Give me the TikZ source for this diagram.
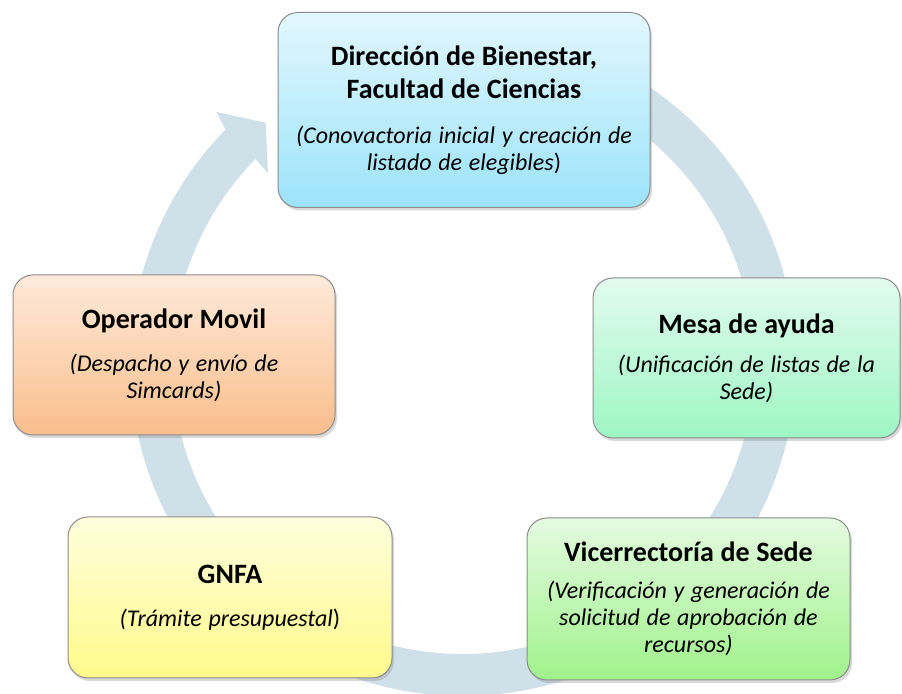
\documentclass[tikz,border=0pt]{standalone}
\usepackage{fontspec}
\setmainfont{Carlito}
\usepackage{tikz}
\usetikzlibrary{shadows}

\definecolor{cyclearrow}{RGB}{207,224,232}
\definecolor{dirtop}{RGB}{226,247,254}
\definecolor{dirbot}{RGB}{156,227,250}
\definecolor{optop}{RGB}{254,234,218}
\definecolor{opbot}{RGB}{250,190,140}
\definecolor{mesatop}{RGB}{226,251,238}
\definecolor{mesabot}{RGB}{158,246,196}
\definecolor{gnfatop}{RGB}{255,254,220}
\definecolor{gnfabot}{RGB}{255,250,140}
\definecolor{vicetop}{RGB}{228,251,224}
\definecolor{vicebot}{RGB}{160,242,140}

\newcommand{\boxtitle}[1]{{\fontsize{14}{16.5}\selectfont\bfseries #1\par}}
\newcommand{\boxnote}[1]{{\fontsize{12}{13.5}\selectfont\itshape #1\par}}

\begin{document}
\begin{tikzpicture}[x=0.5pt, y=0.5pt,
  card/.style={draw=black!45, line width=0.5pt, rounded corners=10pt, align=center, inner sep=3pt,
    drop shadow={shadow xshift=1pt, shadow yshift=-1.5pt, opacity=0.3}},
  dirbox/.style ={card, top color=dirtop,  bottom color=dirbot,  text width=180pt, minimum height=97.5pt},
  opbox/.style  ={card, top color=optop,   bottom color=opbot,   text width=155pt, minimum height=80pt},
  mesabox/.style={card, top color=mesatop, bottom color=mesabot, text width=147.5pt, minimum height=80pt},
  gnfabox/.style={card, top color=gnfatop, bottom color=gnfabot, text width=156pt, minimum height=80.5pt},
  vicebox/.style={card, top color=vicetop, bottom color=vicebot, text width=155.5pt, minimum height=81pt}
]
  \useasboundingbox (0,0) rectangle (902,694);

  % Cycle arrow behind the boxes
  \coordinate (c) at (463,331);
  \draw[cyclearrow, line width=21pt, shift={(c)}] (100:312) arc (100:-224.6:312);
  \fill[cyclearrow, shift={(c)}] (135.5:333) -- (134.5:352) -- (129.4:311) -- (135.8:272) -- (135.5:291) -- cycle;

  % Boxes
  \node[dirbox] (dir) at (464,584)
    {\boxtitle{Dirección de Bienestar,\\Facultad de Ciencias}\vspace{9pt}
     \boxnote{(Conovactoria inicial y creación de\\listado de elegibles\textup{)}}};
  \node[mesabox] (mesa) at (746.5,336)
    {\boxtitle{Mesa de ayuda}\vspace{6pt}
     \boxnote{(Unificación de listas de la\\Sede)}};
  \node[vicebox] (vice) at (688.5,95)
    {\boxtitle{Vicerrectoría de Sede}\vspace{5pt}
     \boxnote{(Verificación y generación de\\solicitud de aprobación de\\recursos)}};
  \node[gnfabox] (gnfa) at (230,96.5)
    {\boxtitle{GNFA}\vspace{8pt}
     \boxnote{(Trámite presupuestal\textup{)}}};
  \node[opbox] (oper) at (174,339)
    {\boxtitle{Operador Movil}\vspace{8pt}
     \boxnote{(Despacho y envío de\\Simcards)}};
\end{tikzpicture}
\end{document}
